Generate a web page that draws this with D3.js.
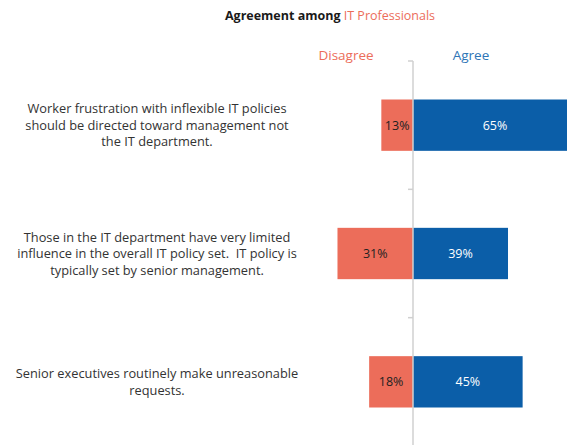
<!DOCTYPE html>
<html>
<head>
<meta charset="utf-8">
<script src="https://cdn.jsdelivr.net/npm/d3@7"></script>
<style>
  html, body { margin: 0; padding: 0; background: #fff; }
  svg { display: block; }
</style>
</head>
<body>
<svg id="chart" width="567" height="445"></svg>
<script>
const categories = [
  ["Worker frustration with inflexible IT policies", "should be directed toward management not", "the IT department."],
  ["Those in the IT department have very limited", "influence in the overall IT policy set.\u00A0 IT policy is", "typically set by senior management."],
  ["Senior executives routinely make unreasonable", "requests."]
];
const disagree = [13, 31, 18];
const agree = [65, 39, 45];
const seriesNames = ["Disagree", "Agree"];

const red = "#EC6D5A";
const blue = "#0B5EA8";
const font = "'Open Sans', 'DejaVu Sans', sans-serif";

const svg = d3.select("#chart");
const zeroX = 413;
const x = d3.scaleLinear().domain([-31, 39]).range([zeroX - 31 * 2.436, zeroX + 39 * 2.436]);
const y = d3.scaleBand().domain(d3.range(categories.length)).range([61, 446]).paddingInner(0.6).paddingOuter(0.3);

// title
const title = svg.append("text").attr("x", 330).attr("y", 20).attr("text-anchor", "middle")
  .attr("font-family", font).attr("font-size", 12.5).attr("font-weight", "bold");
title.append("tspan").attr("fill", "#1a1a1a").text("Agreement among ");
title.append("tspan").attr("fill", red).attr("font-weight", "normal").text("IT Professionals");

// legend labels
svg.append("text").attr("x", 346).attr("y", 60).attr("text-anchor", "middle")
  .attr("font-family", font).attr("font-size", 13.5).attr("fill", red).text(seriesNames[0]);
svg.append("text").attr("x", 471).attr("y", 60).attr("text-anchor", "middle")
  .attr("font-family", font).attr("font-size", 13.5).attr("fill", "#2E75B6").text(seriesNames[1]);

// bars
const g = svg.append("g");
g.selectAll("rect.dis").data(disagree).join("rect").attr("class", "dis")
  .attr("x", d => x(-d)).attr("width", d => x(0) - x(-d))
  .attr("y", (d, i) => y(i)).attr("height", y.bandwidth()).attr("fill", red);
g.selectAll("rect.agr").data(agree).join("rect").attr("class", "agr")
  .attr("x", x(0)).attr("width", d => x(d) - x(0))
  .attr("y", (d, i) => y(i)).attr("height", y.bandwidth()).attr("fill", blue);

// value labels
g.selectAll("text.dis").data(disagree).join("text").attr("class", "dis")
  .attr("x", d => (x(-d) + x(0)) / 2).attr("y", (d, i) => y(i) + y.bandwidth() / 2 + 4.5)
  .attr("text-anchor", "middle").attr("font-family", font).attr("font-size", 12.5)
  .attr("fill", "#222").text(d => d + "%");
g.selectAll("text.agr").data(agree).join("text").attr("class", "agr")
  .attr("x", d => (x(0) + Math.min(x(d), 567)) / 2 + (d === 65 ? 5 : 0))
  .attr("y", (d, i) => y(i) + y.bandwidth() / 2 + 4.5)
  .attr("text-anchor", "middle").attr("font-family", font).attr("font-size", 12.5)
  .attr("fill", "#fff").text(d => d + "%");

// axis
const axisG = svg.append("g").attr("transform", `translate(${zeroX},0)`);
axisG.append("line").attr("x1", 0).attr("x2", 0).attr("y1", 61).attr("y2", 446)
  .attr("stroke", "#d0d0d0").attr("stroke-width", 1.5);
const bandScale = d3.scaleBand().domain(d3.range(categories.length)).range([61, 446]);
axisG.selectAll("line.tick").data(d3.range(categories.length)).join("line").attr("class", "tick")
  .attr("x1", -5).attr("x2", 0).attr("y1", i => bandScale(i)).attr("y2", i => bandScale(i))
  .attr("stroke", "#d0d0d0").attr("stroke-width", 1.5);

// category labels
const lh = 16.5;
categories.forEach((lines, i) => {
  const cy = y(i) + y.bandwidth() / 2;
  const t = svg.append("text").attr("text-anchor", "middle").attr("font-family", font)
    .attr("font-size", 12.8).attr("fill", "#333");
  const n = lines.length;
  const startY = cy - (n - 1) / 2 * lh + 4.5;
  lines.forEach((l, k) => {
    t.append("tspan").attr("x", 157).attr("y", startY + k * lh).text(l);
  });
});
</script>
</body>
</html>
